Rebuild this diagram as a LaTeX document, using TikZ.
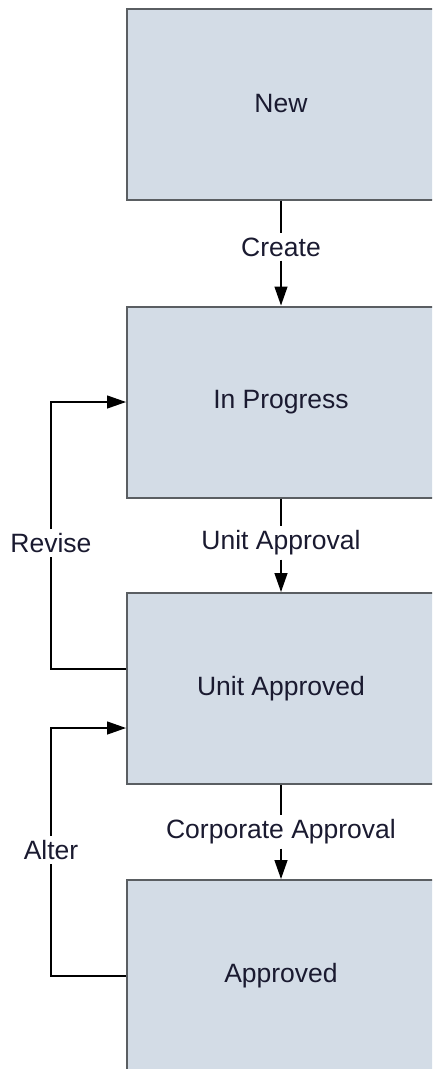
\documentclass[tikz,border=0pt]{standalone}
\usepackage{fontspec}
\setmainfont{Liberation Sans}
\usetikzlibrary{arrows.meta}
\definecolor{boxfill}{HTML}{D3DCE6}
\definecolor{boxline}{HTML}{5A5E62}
\definecolor{txt}{HTML}{1A1A30}
\begin{document}
\begin{tikzpicture}[x=1pt,y=-1pt,
  state/.style={draw=boxline, fill=boxfill, line width=2pt, minimum width=308pt, minimum height=191pt, inner sep=0pt, font=\fontsize{26.5}{30}\selectfont, text=txt},
  wire/.style={draw=black, line width=1.3pt},
  conn/.style={wire, -{Triangle[length=19pt,width=13pt]}},
  lbl/.style={inner xsep=1pt, inner ysep=4pt, font=\fontsize{26.5}{30}\selectfont, text=txt}]
\useasboundingbox (0,0) rectangle (432,1069);
\begin{scope}
\clip (0,0) rectangle (432,1069);
\node[state] (new) at (281,104) {New};
\node[state] (inprog) at (281,402) {In Progress};
\node[state] (unit) at (281,688.5) {Unit Approved};
\node[state] (appr) at (281,975.5) {Approved};
\end{scope}
\node[lbl] (create) at (281,247) {Create};
\node[lbl] (ua) at (281,543) {Unit Approval};
\node[lbl] (ca) at (281,832) {Corporate Approval};
\node[lbl] (revise) at (51,543) {Revise};
\node[lbl] (alter) at (51,850) {Alter};
\draw[wire] (new.south) -- (create.north -| new.south);
\draw[conn] (create.south -| new.south) -- (inprog.north);
\draw[wire] (inprog.south) -- (ua.north -| inprog.south);
\draw[conn] (ua.south -| inprog.south) -- (unit.north);
\draw[wire] (unit.south) -- (ca.north -| unit.south);
\draw[conn] (ca.south -| unit.south) -- (appr.north);
\coordinate (rv) at (51,669);
\coordinate (al) at (51,976);
\draw[wire] ([yshift=19.5pt]unit.west) -- (rv) -- (revise.south);
\draw[conn] (revise.north) |- (inprog.west);
\draw[wire] ([yshift=-0.5pt]appr.west) -- (al) -- (alter.south);
\draw[conn] (alter.north) |- ([yshift=-39.5pt]unit.west);
\end{tikzpicture}
\end{document}
